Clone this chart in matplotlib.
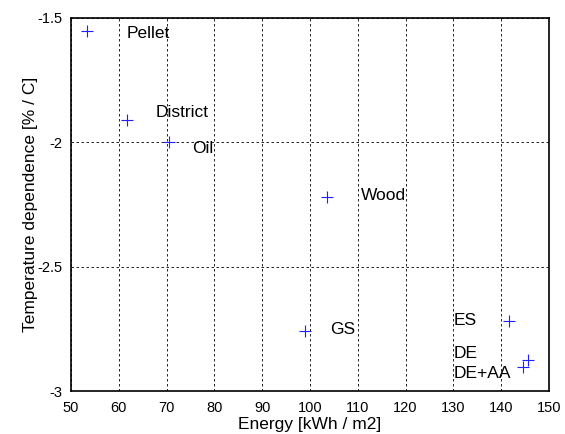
import matplotlib
matplotlib.use("Agg")
import matplotlib.pyplot as plt

plt.rcParams['font.family'] = ['Liberation Sans', 'DejaVu Sans']

names = ["Pellet", "District", "Oil", "Wood", "GS", "ES", "DE", "DE+AA"]
energy = [53.4, 61.7, 70.4, 103.5, 98.9, 141.7, 145.5, 144.5]
temp_dep = [-1.554, -1.91, -1.998, -2.219, -2.757, -2.72, -2.874, -2.905]
label_x = [61.7, 67.6, 75.3, 110.6, 104.2, 130.1, 130.1, 130.1]
label_y = [-1.563, -1.882, -2.027, -2.215, -2.753, -2.716, -2.848, -2.929]

fig = plt.figure(figsize=(5.65, 4.34), dpi=100)
ax = fig.add_axes([0.1257, 0.099, 0.8460, 0.8605])

ax.plot(energy, temp_dep, '+', color='#2020ff', markersize=8, markeredgewidth=0.8)
for name, lx, ly in zip(names, label_x, label_y):
    ax.text(lx, ly, name, fontsize=12.5, va='center', ha='left')

ax.set_xlim(50, 150)
ax.set_ylim(-3, -1.5)
ax.set_xticks(range(50, 151, 10))
ax.set_yticks([-3, -2.5, -2, -1.5])
ax.set_yticklabels(["-3", "-2.5", "-2", "-1.5"])
ax.grid(True, color='black', linestyle=(0, (3, 3)), linewidth=0.6)
ax.tick_params(direction='in', length=0, labelsize=10.5)
ax.tick_params(axis='x', pad=7)
ax.tick_params(axis='y', pad=6)
for s in ax.spines.values():
    s.set_linewidth(1.2)

ax.set_xlabel("Energy [kWh / m2]", fontsize=12.5)
ax.set_ylabel("Temperature dependence [% / C]", fontsize=12.5)
ax.xaxis.set_label_coords(0.5, -0.07)
ax.yaxis.set_label_coords(-0.069, 0.5)

fig.savefig("out.png", dpi=100)
